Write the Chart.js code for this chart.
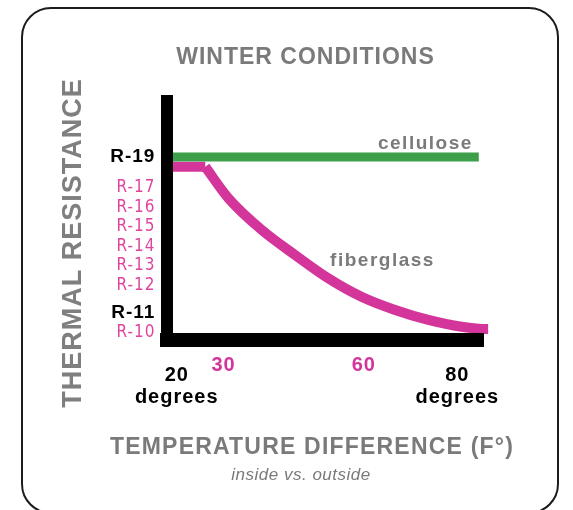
<!DOCTYPE html>
<html>
<head>
<meta charset="utf-8">
<script src="https://cdn.jsdelivr.net/npm/chart.js@4.4.0/dist/chart.umd.min.js"></script>
<style>
	html, body { margin: 0; padding: 0; background: #fff; overflow: hidden; }
	#frame {
		position: absolute; left: 21px; top: 7px; width: 538px; height: 507px;
		box-sizing: border-box; border: 2.5px solid #1c1c1c; border-radius: 30px;
	}
	#wrap { position: absolute; left: 0; top: 0; width: 573px; height: 510px; }
	canvas { display: block; }
</style>
</head>
<body>
<div id="frame"></div>
<div id="wrap"><canvas id="myChart" width="573" height="510"></canvas></div>
<script>
// R 값 눈금 / 온도 눈금
const rTicks = [10, 11, 12, 13, 14, 15, 16, 17, 19];
const rBold = [11, 19];
const tempTicks = [20, 30, 60, 80];
const tempEnds = [20, 80];

// cellulose : 일정
const celluloseTemp = [18, 84.6];
const celluloseR = [19, 19];

// fiberglass : 낮은 온도차에서는 평평, 이후 떨어짐
const shelfTemp = [18, 26.1];
const shelfR = [18.5, 18.5];
const fiberTemp = [26.1, 31, 38.2, 45.3, 52.4, 59.5, 66.7, 73.8, 80.9, 86.6, 87.7];
const fiberR = [18.5, 16.9, 15.25, 13.97, 12.77, 11.82, 11.14, 10.63, 10.28, 10.16, 10.2];

const green = '#3d9f4a';
const pink = '#d4359a';
const pinkText = '#e0449f';
const gray = '#7a7a7a';
const family = "'Liberation Sans', Arial, sans-serif";
const narrow = "'Liberation Sans Narrow', 'DejaVu Sans Condensed', sans-serif";

Chart.defaults.font.family = family;

// 눈금 컨텍스트에 tick 이 없을 때도 있음
const isEnd = c => !!c.tick && tempEnds.includes(c.tick.value);
const isBold = c => !!c.tick && rBold.includes(c.tick.value);
// R-11 과 R-19 사이의 작은 라벨은 조금 위로
const isRaised = v => v > rBold[0] && v < rBold[1];

const toPoints = (xs, ys) => xs.map((t, i) => ({ x: t, y: ys[i] }));

const spacing = {
	id: 'spacing',
	beforeDraw(chart) {
		chart.ctx.letterSpacing = '1px';
	}
};

const notes = {
	id: 'notes',
	afterDraw(chart) {
		const ctx = chart.ctx;
		const x = chart.scales.x;
		const y = chart.scales.y;
		ctx.save();
		ctx.fillStyle = gray;
		ctx.letterSpacing = '1.5px';
		ctx.font = 'bold 19px ' + family;
		ctx.textBaseline = 'alphabetic';
		ctx.textAlign = 'right';
		ctx.fillText('cellulose', x.getPixelForValue(celluloseTemp[1]) - 6, y.getPixelForValue(celluloseR[1]) - 8);
		ctx.textAlign = 'left';
		ctx.fillText('fiberglass', x.getPixelForValue(52.8), y.getPixelForValue(13.4));

		ctx.textAlign = 'center';
		ctx.textBaseline = 'middle';
		ctx.letterSpacing = '1.2px';
		ctx.font = 'bold 23px ' + family;
		ctx.fillText('TEMPERATURE DIFFERENCE (F°)', 312, 448);
		ctx.letterSpacing = '0.5px';
		ctx.font = 'italic 17px ' + family;
		ctx.fillText('inside vs. outside', 301, 475);
		ctx.restore();
	}
};

new Chart(document.getElementById('myChart'), {
	type: 'line',
	data: {
		datasets: [{
			label: 'cellulose',
			data: toPoints(celluloseTemp, celluloseR),
			borderColor: green,
			borderWidth: 9,
			pointRadius: 0,
			clip: false
		}, {
			label: 'fiberglass',
			data: toPoints(shelfTemp, shelfR),
			borderColor: pink,
			borderWidth: 10,
			pointRadius: 0,
			clip: false
		}, {
			label: 'fiberglass',
			data: toPoints(fiberTemp, fiberR),
			borderColor: pink,
			borderWidth: 10,
			pointRadius: 0,
			cubicInterpolationMode: 'monotone',
			capBezierPoints: false,
			clip: false
		}]
	},
	options: {
		responsive: false,
		animation: false,
		layout: {
			padding: { left: 38, right: 0, top: 0, bottom: 24 }
		},
		plugins: {
			legend: { display: false },
			tooltip: { enabled: false },
			title: {
				display: true,
				text: 'WINTER CONDITIONS',
				color: gray,
				font: { size: 23, weight: 'bold' },
				padding: { top: 44, bottom: 29 }
			},
			subtitle: {
				display: true,
				position: 'left',
				text: 'THERMAL RESISTANCE',
				color: '#7f7f7f',
				font: { size: 27, weight: 'bold' },
				padding: { top: 19, bottom: 21 }
			}
		},
		scales: {
			x: {
				type: 'linear',
				min: 18,
				max: 85.5,
				grid: { display: false, drawTicks: false },
				border: { color: '#000', width: 14, z: 1 },
				afterBuildTicks: s => { s.ticks = tempTicks.map(v => ({ value: v })); },
				afterFit: s => { s.height = 146; },
				ticks: {
					autoSkip: false,
					maxRotation: 0,
					minRotation: 0,
					padding: 24,
					callback: v => tempEnds.includes(v) ? [String(v), 'degrees'] : String(v),
					color: c => isEnd(c) ? '#000' : pink,
					font: c => isEnd(c)
						? { size: 20, weight: 'bold', lineHeight: '22px' }
						: { size: 20, weight: 'bold', lineHeight: '2px' }
				}
			},
			y: {
				type: 'linear',
				min: 9.6,
				max: 21.9,
				grid: { display: false, drawTicks: false },
				border: { color: '#000', width: 12, z: 1 },
				afterBuildTicks: s => { s.ticks = rTicks.map(v => ({ value: v })); },
				afterFit: s => { s.width = 57; },
				ticks: {
					autoSkip: false,
					padding: 12,
					callback: v => isRaised(v) ? ['R-' + v, ''] : 'R-' + v,
					color: c => isBold(c) ? '#000' : pinkText,
					font: c => isBold(c)
						? { size: 19, weight: 'bold' }
						: { size: 17, family: narrow, lineHeight: '16px' }
				}
			},
			yPad: {
				position: 'right',
				grid: { display: false },
				border: { display: false },
				ticks: { display: false },
				afterFit: s => { s.width = 90; }
			}
		}
	},
	plugins: [spacing, notes]
});
</script>
</body>
</html>
